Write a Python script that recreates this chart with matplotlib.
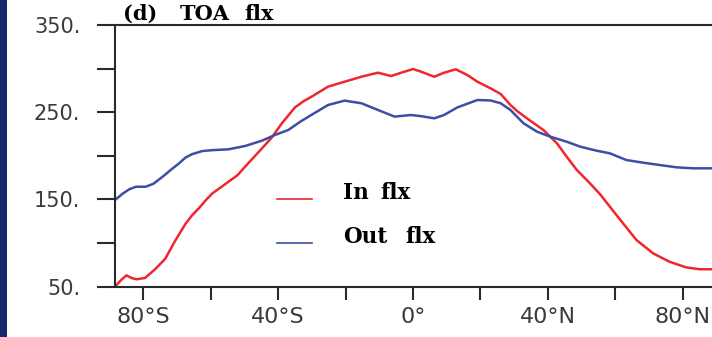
import matplotlib
matplotlib.use('Agg')
import matplotlib.pyplot as plt
from matplotlib.patches import Rectangle
from matplotlib.lines import Line2D

# zonal mean top-of-atmosphere fluxes
lat_in = [-88.4, -86.5, -85.0, -83.5, -82.0, -79.5, -76.5, -73.5, -70.5, -67.5,
          -65.5, -63.5, -61.5, -59.5, -57.0, -54.7, -52.0, -49.8, -44.8, -41.9,
          -38.9, -35.0, -32.5, -30.1, -25.2, -20.3, -15.3, -10.4, -6.5, -3.5,
          0.0, 2.4, 6.3, 9.2, 12.7, 16.1, 19.1, 23.0, 26.0, 28.9,
          31.0, 33.8, 38.7, 42.7, 45.6, 48.6, 52.5, 55.5, 58.4, 62.3,
          66.3, 71.2, 76.1, 81.0, 85.0, 88.7]
in_flx = [50, 58, 63, 60, 58.5, 60, 70, 82, 103, 122,
          132, 140, 149, 157, 164, 170.4, 178, 187.6, 208.6, 221,
          237.3, 255.6, 262.5, 267.8, 279.3, 285, 290.7, 295.3, 291.5, 295.3,
          299.5, 296.5, 290.7, 295.3, 299.2, 292.7, 285, 277.4, 271, 258.3,
          251, 243, 229.6, 214.4, 199, 183.8, 168.5, 156, 141.7, 122.7,
          103.5, 88.3, 78.6, 72.2, 70, 70]

lat_out = [-88.4, -86.0, -84.2, -82.2, -79.3, -77.0, -74.3, -71.5, -69.4, -67.5,
           -65.5, -62.5, -59.6, -54.7, -49.8, -44.8, -40.9, -37.0, -33.5, -30.1,
           -25.2, -20.3, -15.3, -10.4, -5.5, -0.6, 2.4, 6.3, 9.2, 13.2,
           19.1, 23.0, 26.0, 28.9, 32.8, 36.8, 40.7, 45.6, 49.6, 54.5,
           58.4, 63.3, 68.2, 73.2, 78.1, 83.0, 88.7]
out_flx = [149.4, 157, 161.6, 164.6, 164.6, 168, 176, 185, 191.4, 198,
           202, 205.5, 206.5, 207.5, 211.3, 217.4, 224, 229.6, 239, 247,
           258.3, 263.3, 260.3, 252.6, 245, 246.8, 245.5, 243, 246.8, 255.6,
           264, 263.5, 260.3, 252.6, 237.3, 227.7, 222, 216.2, 210.5, 205.9,
           202.9, 195.2, 192.2, 189.5, 186.9, 185.7, 185.7]

xticks = [-80, -60, -40, -20, 0, 20, 40, 60, 80]
xlabels = ['80°S', '', '40°S', '', '0°', '', '40°N', '', '80°N']
yticks = [50, 100, 150, 200, 250, 300, 350]
ylabels = ['50.', '', '150.', '', '250.', '', '350.']

RED = '#f0262c'
BLUE = '#3c4fa6'
GREY = '#3a3a3a'
SERIF = ['DejaVu Serif']


def word_row(fig, words, xs, y_px, size):
    # bold serif words placed one by one, with the wide spacing of the labels
    for w, x in zip(words, xs):
        fig.text(x / 712, 1 - y_px / 337, w, family=SERIF, fontweight='bold',
                 fontsize=size, ha='left', va='baseline')


def main():
    fig = plt.figure(figsize=(7.12, 3.37), dpi=100)
    ax = fig.add_axes([115 / 712, 1 - 286.7 / 337, 1 - 115 / 712, (286.7 - 25) / 337])

    ax.plot(lat_in, in_flx, color=RED, lw=1.8, solid_capstyle='round')
    ax.plot(lat_out, out_flx, color=BLUE, lw=1.8, solid_capstyle='round')

    ax.set_xlim(-88.4, 88.7)
    ax.set_ylim(50, 350)
    ax.set_xticks(xticks)
    ax.set_xticklabels(xlabels)
    ax.set_yticks(yticks)
    ax.set_yticklabels(ylabels)

    for side in ('left', 'bottom', 'top'):
        ax.spines[side].set_linewidth(1.5)
        ax.spines[side].set_color('#2a2a2a')
    ax.spines['right'].set_visible(False)
    ax.tick_params(axis='y', direction='out', length=13, width=1.5, color='#2a2a2a',
                   pad=12, labelsize=15, labelcolor=GREY)
    ax.tick_params(axis='x', direction='out', length=9.5, width=1.5, color='#2a2a2a',
                   pad=5, labelsize=16, labelcolor=GREY)

    word_row(fig, ['(d)', 'TOA', 'flx'], [123, 180, 244], 19.5, 15)

    # legend drawn by hand in figure coordinates
    for y, col in ((199, RED), (242.7, BLUE)):
        fy = 1 - y / 337
        fig.add_artist(Line2D([277 / 712, 312 / 712], [fy, fy], color=col, lw=1.2,
                              transform=fig.transFigure))
    word_row(fig, ['In', 'flx'], [343, 380], 199, 15.5)
    word_row(fig, ['Out', 'flx'], [343, 405], 243, 15.5)

    # dark frame edge at the left
    fig.add_artist(Rectangle((0, 0), 7 / 712, 1, transform=fig.transFigure,
                             color='#142a6e', lw=0))

    plt.savefig('out.png', dpi=100)


if __name__ == '__main__':
    main()
